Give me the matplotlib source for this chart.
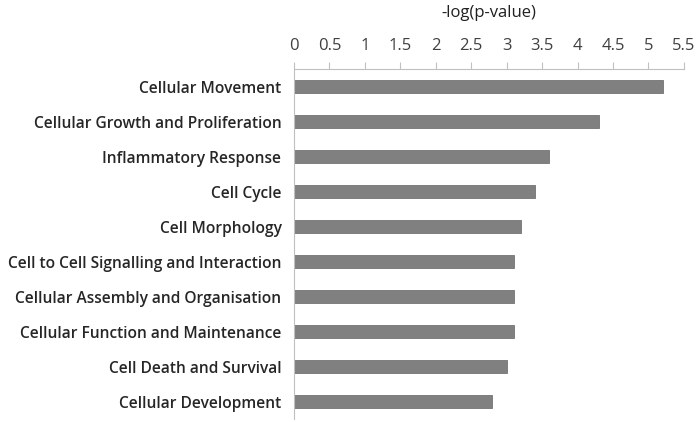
import numpy as np
import matplotlib.pyplot as plt

categories = ["Cellular Movement", "Cellular Growth and Proliferation",
              "Inflammatory Response", "Cell Cycle", "Cell Morphology",
              "Cell to Cell Signalling and Interaction",
              "Cellular Assembly and Organisation",
              "Cellular Function and Maintenance",
              "Cell Death and Survival", "Cellular Development"]
values = [5.2, 4.3, 3.6, 3.4, 3.2, 3.1, 3.1, 3.1, 3.0, 2.8]
xticks = np.arange(0, 5.51, 0.5)
xticklabels = ["0", "0.5", "1", "1.5", "2", "2.5", "3", "3.5", "4", "4.5", "5", "5.5"]

plt.rcParams['font.family'] = ['Open Sans', 'DejaVu Sans']

fig = plt.figure(figsize=(7, 4.22), dpi=100)
ax = fig.add_axes([0.42, 0.007, 0.557, 0.829])

y = np.arange(len(categories))
ax.barh(y, values, height=0.37, color='#808080', edgecolor='#737373', linewidth=0.6)
ax.set_ylim(len(categories) - 0.5, -0.5)
ax.set_xlim(0, 5.5)

ax.xaxis.tick_top()
ax.xaxis.set_label_position('top')
ax.set_xticks(xticks)
ax.set_xticklabels(xticklabels, fontsize=12, color='#404040')
ax.set_xlabel('-log(p-value)', fontsize=12, color='#202020', labelpad=15)
ax.tick_params(axis='x', length=5, color='#c0c0c0', pad=6)

ax.set_yticks(y)
ax.set_yticklabels(categories, fontsize=11.2, color='#262626', fontweight='semibold')
ax.tick_params(axis='y', length=0, pad=9)

for s in ['right', 'bottom']:
    ax.spines[s].set_visible(False)
ax.spines['top'].set_color('#c0c0c0')
ax.spines['left'].set_color('#c0c0c0')

fig.savefig('out.png', dpi=100)
